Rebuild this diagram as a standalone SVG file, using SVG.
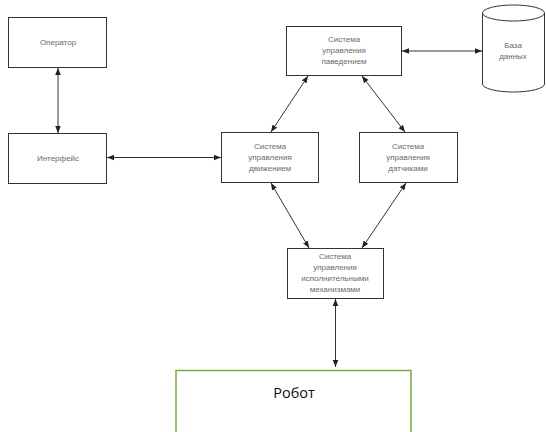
<svg xmlns="http://www.w3.org/2000/svg" width="546" height="432" viewBox="0 0 546 432">
  <defs>
    <marker id="ah" viewBox="0 0 10 10" refX="10" refY="5" markerWidth="7" markerHeight="7" orient="auto-start-reverse" markerUnits="userSpaceOnUse">
      <path d="M0,1 L10,5 L0,9 Z" fill="#222"/>
    </marker>
    <style>
      .box { fill: #fff; stroke: #333; stroke-width: 1; }
      .lbl { font-family: "Liberation Sans", Arial, sans-serif; font-size: 8px; fill: #6a6a6a; text-anchor: middle; }
      .con { stroke: #333; stroke-width: 1; fill: none; marker-start: url(#ah); marker-end: url(#ah); }
    </style>
  </defs>
  <rect width="546" height="432" fill="#fff"/>

  <g id="operator">
    <rect class="box" x="8.5" y="17.5" width="98" height="50"/>
    <text class="lbl" x="58" y="45">Оператор</text>
  </g>
  <g id="interface">
    <rect class="box" x="8.5" y="133.5" width="98" height="50"/>
    <text class="lbl" x="58" y="161">Интерфейс</text>
  </g>
  <g id="behavior">
    <rect class="box" x="286.5" y="26.5" width="115" height="49"/>
    <text class="lbl" x="344" y="42">Система</text>
    <text class="lbl" x="344" y="53">управления</text>
    <text class="lbl" x="344" y="64">паведением</text>
  </g>
  <g id="database">
    <path d="M482.5,13 L482.5,84 A31,8 0 0 0 544.5,84 L544.5,13" fill="#fff" stroke="#333"/>
    <ellipse cx="513.5" cy="13" rx="31" ry="8" fill="#fff" stroke="#333"/>
    <text class="lbl" x="513" y="48">База</text>
    <text class="lbl" x="513" y="59">данных</text>
  </g>
  <g id="motion">
    <rect class="box" x="221.5" y="132.5" width="97" height="50"/>
    <text class="lbl" x="270" y="149">Система</text>
    <text class="lbl" x="270" y="160">управления</text>
    <text class="lbl" x="270" y="171">движением</text>
  </g>
  <g id="sensors">
    <rect class="box" x="359.5" y="132.5" width="98" height="50"/>
    <text class="lbl" x="408" y="149">Система</text>
    <text class="lbl" x="408" y="160">управления</text>
    <text class="lbl" x="408" y="171">датчиками</text>
  </g>
  <g id="actuators">
    <rect class="box" x="287.5" y="248.5" width="96" height="50"/>
    <text class="lbl" x="335" y="259">Система</text>
    <text class="lbl" x="335" y="270">управления</text>
    <text class="lbl" x="335" y="281">исполнительными</text>
    <text class="lbl" x="335" y="292">механизмами</text>
  </g>
  <g id="robot">
    <path d="M176,433 L176,370.5 L411,370.5 L411,433" fill="#fff" stroke="#70ad47" stroke-width="1.5"/>
    <text x="294" y="398" font-family="'Open Sans', 'Noto Sans', sans-serif" font-size="14.5" fill="#111" text-anchor="middle">Робот</text>
  </g>

  <g id="connectors">
    <line class="con" x1="58" y1="68" x2="58" y2="133"/>
    <line class="con" x1="107" y1="157.5" x2="221" y2="157.5"/>
    <line class="con" x1="402" y1="51" x2="482" y2="51"/>
    <line class="con" x1="308" y1="76" x2="271" y2="132"/>
    <line class="con" x1="362" y1="76" x2="405" y2="132"/>
    <line class="con" x1="271" y1="183" x2="309" y2="248"/>
    <line class="con" x1="406" y1="183" x2="362" y2="248"/>
    <line class="con" x1="335.5" y1="299" x2="335.5" y2="367"/>
  </g>
</svg>
